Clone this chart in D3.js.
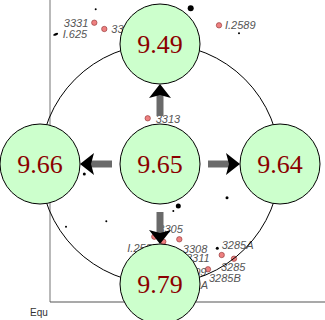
<!DOCTYPE html>
<html>
<head>
<meta charset="utf-8">
<script src="https://cdn.jsdelivr.net/npm/d3@7"></script>
<style>
  body { margin: 0; background: #fff; }
  svg { display: block; }
</style>
</head>
<body>
<svg id="chart"></svg>
<script>
// scatter data (plot units)
const pinkX = [1.772, 2.172, 6.76, 3.908, 4.172, 4.532, 5.172, 6.32, 7.36, 6.868, 5.28, 5.0, 4.88];
const pinkY = [9.248, 9.04, 9.162, 6.083, 2.162, 1.997, 2.076, 1.083, 1.434, 1.556, 1.457, 0.993, 0.563];
const pinkLabels = ['3331', '3332', 'I.2589', '3313', 'I.2587', '3305', '3308', '3285B', '3285', '3285A', '3311', '3309', '3311A'];

const dotX = [1.828, 5.628, 7.56, 5.132, 4.932, 7.08, 1.372, 0.64, 2.252, 6.692];
const dotY = [9.692, 9.725, 8.897, 3.179, 3.013, 3.454, 4.238, 2.493, 2.672, 1.778];
const dotSize = [1, 3, 1, 2.5, 1, 1.5, 1.5, 1, 1, 1.5];

const dashX = [0.228];
const dashY = [8.864];
const dashLabels = ['I.625'];

// node diagram
const centerValue = '9.65';
const neighbourValues = ['9.49', '9.66', '9.64', '9.79'];
const neighbourDirs = [[0, -1], [-1, 0], [1, 0], [0, 1]];

const axisTitle = 'Equ';

// label offsets in px (dx, dy, anchor)
const pinkLabelPos = [
  [-6, 4, 'end'], [7, 4, 'start'], [6, 4, 'start'], [8, 4.5, 'start'],
  [-27, 15, 'start'], [-5, -8.5, 'start'], [3.5, 13.5, 'start'], [1, 12.5, 'start'],
  [-13, 12, 'start'], [0, -6, 'start'], [4, 4, 'start'], [7, 4, 'start'], [5, 4, 'start']
];

const sansFont = "'Liberation Sans', Arial, sans-serif";
const serifFont = "'Liberation Serif', 'Times New Roman', serif";

const width = 325, height = 320;
let svg = d3.select('#chart').attr('width', width).attr('height', height);

let x = d3.scaleLinear().domain([0, 11]).range([50, 325]);
let y = d3.scaleLinear().domain([0, 10]).range([302, 0]);

// axes lines
svg.append('line')
  .attr('x1', x(0)).attr('x2', x(0))
  .attr('y1', 0).attr('y2', y(0))
  .attr('stroke', '#8a8a8a').attr('stroke-width', 1.2);
svg.append('line')
  .attr('x1', x(0)).attr('x2', width)
  .attr('y1', y(0)).attr('y2', y(0))
  .attr('stroke', '#555').attr('stroke-width', 1.2);

svg.append('text')
  .attr('x', 30).attr('y', 316)
  .style('font-family', sansFont)
  .attr('font-size', 10)
  .attr('fill', '#333')
  .text(axisTitle);

// black dots
svg.append('g')
  .selectAll('circle')
  .data(dotX)
  .enter()
  .append('circle')
  .attr('cx', d => x(d))
  .attr('cy', (d, i) => y(dotY[i]))
  .attr('r', (d, i) => dotSize[i])
  .attr('fill', '#000');

// dash markers
let dashes = svg.append('g');
dashX.forEach((d, i) => {
  dashes.append('ellipse')
    .attr('cx', x(d)).attr('cy', y(dashY[i]))
    .attr('rx', 2.6).attr('ry', 1.2)
    .attr('transform', 'rotate(-20,' + x(d) + ',' + y(dashY[i]) + ')')
    .attr('fill', '#000');
  dashes.append('text')
    .style('font-family', sansFont)
    .style('font-style', 'italic')
    .attr('x', x(d) + 7).attr('y', y(dashY[i]) + 3.7)
    .attr('font-size', 11)
    .attr('fill', '#555')
    .text(dashLabels[i]);
});

// pink points + labels
let pink = svg.append('g');
pink.selectAll('circle')
  .data(pinkX)
  .enter()
  .append('circle')
  .attr('cx', d => x(d))
  .attr('cy', (d, i) => y(pinkY[i]))
  .attr('r', 2.7)
  .attr('fill', '#ee8080')
  .attr('stroke', '#8b3030')
  .attr('stroke-width', 0.6);
pink.selectAll('text')
  .data(pinkLabels)
  .enter()
  .append('text')
  .style('font-family', sansFont)
  .style('font-style', 'italic')
  .attr('x', (d, i) => x(pinkX[i]) + pinkLabelPos[i][0])
  .attr('y', (d, i) => y(pinkY[i]) + pinkLabelPos[i][1])
  .attr('text-anchor', (d, i) => pinkLabelPos[i][2])
  .attr('font-size', 11)
  .attr('fill', '#555')
  .text(d => d);

// node diagram overlay
const cx = 160, cy = 164, ring = 120, nodeR = 40;

svg.append('circle')
  .attr('cx', cx).attr('cy', cy).attr('r', ring)
  .attr('fill', 'none')
  .attr('stroke', '#000')
  .attr('stroke-width', 1);

let arrows = svg.append('g');
neighbourDirs.forEach(dir => {
  let start = nodeR + 8, tip = ring - nodeR, headLen = 14, headW = 11;
  let ux = dir[0], uy = dir[1], px = -uy, py = ux;
  let base = tip - headLen;
  arrows.append('line')
    .attr('x1', cx + ux * start).attr('y1', cy + uy * start)
    .attr('x2', cx + ux * (base + 3)).attr('y2', cy + uy * (base + 3))
    .attr('stroke', '#6a6a6a').attr('stroke-width', 7);
  let pts = [
    [cx + ux * tip, cy + uy * tip],
    [cx + ux * base + px * headW, cy + uy * base + py * headW],
    [cx + ux * (base + 3), cy + uy * (base + 3)],
    [cx + ux * base - px * headW, cy + uy * base - py * headW]
  ];
  arrows.append('path')
    .attr('d', 'M' + pts.map(p => p.join(',')).join('L') + 'Z')
    .attr('fill', '#000');
});

let nodes = [{ v: centerValue, x: cx, y: cy }].concat(
  neighbourValues.map((v, i) => ({ v: v, x: cx + neighbourDirs[i][0] * ring, y: cy + neighbourDirs[i][1] * ring }))
);
let node = svg.append('g')
  .selectAll('g')
  .data(nodes)
  .enter()
  .append('g');
node.append('circle')
  .attr('cx', d => d.x).attr('cy', d => d.y).attr('r', nodeR)
  .attr('fill', '#ccffcc')
  .attr('stroke', '#000')
  .attr('stroke-width', 1);
node.append('text')
  .style('font-family', serifFont)
  .attr('x', d => d.x).attr('y', d => d.y + 9)
  .attr('text-anchor', 'middle')
  .attr('font-size', 26)
  .attr('fill', '#8b0000')
  .text(d => d.v);
</script>
</body>
</html>
